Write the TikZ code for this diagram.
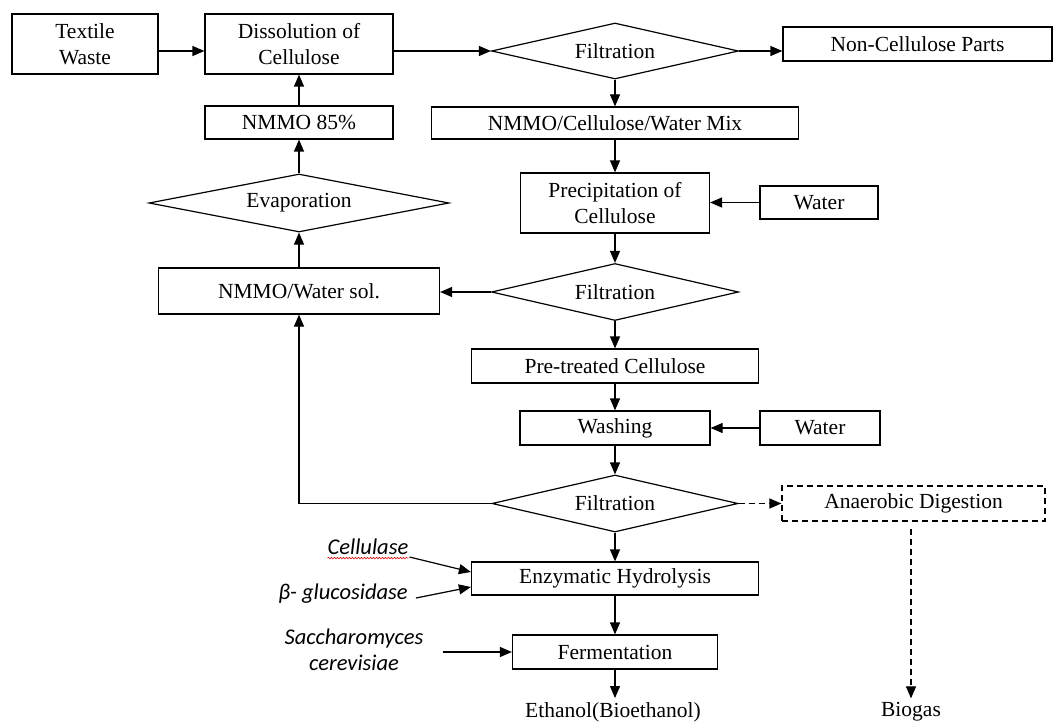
\documentclass[tikz,border=0pt]{standalone}
\usepackage{fontspec}
\setmainfont{Liberation Serif}
\newfontfamily\labelfont{Carlito}
\usetikzlibrary{arrows.meta,shapes.geometric,decorations.pathmorphing}

\begin{document}
\begin{tikzpicture}[x=1pt,y=-1pt,
  every node/.style={font=\fontsize{21.5}{25.5}\selectfont, inner sep=0pt},
  box/.style={draw, line width=1.2pt, align=center},
  dbox/.style={box, dash pattern=on 6pt off 4pt},
  dia/.style={draw, diamond, aspect=5, line width=1.2pt, inner sep=0pt},
  agent/.style={font=\labelfont\itshape\fontsize{22.5}{26}\selectfont, align=center},
  arr/.style={line width=1.2pt, -{Triangle[length=12pt,width=10pt]}},
  darr/.style={arr, dash pattern=on 6pt off 4pt}
]
\useasboundingbox[fill=white] (0,0) rectangle (1056,722);

% left column: feed and solvent recovery
\node[box, minimum width=146pt, minimum height=60pt] (tw) at (85,44) {Textile\\Waste};
\node[box, minimum width=188pt, minimum height=60pt] (diss) at (299,44) {Dissolution of\\Cellulose};
\node[box, minimum width=188pt, minimum height=33pt] (n85) at (299,122.5) {NMMO 85\%};
\node[dia, minimum width=300pt, minimum height=58pt] (evap) at (299,203) {Evaporation};
\node[box, minimum width=281pt, minimum height=46pt] (nws) at (299,291) {NMMO/Water sol.};

% main process column
\node[dia, minimum width=247pt, minimum height=56pt] (f1) at (615,51) {Filtration};
\node[box, minimum width=269pt, minimum height=34pt] (nc) at (917.5,44) {Non-Cellulose Parts};
\node[box, minimum width=367pt, minimum height=32pt] (mix) at (615,123) {NMMO/Cellulose/Water Mix};
\node[box, minimum width=189pt, minimum height=60pt] (prec) at (615,203) {Precipitation of\\Cellulose};
\node[box, minimum width=118pt, minimum height=33pt] (w1) at (819,202.5) {Water};
\node[dia, minimum width=247pt, minimum height=57pt] (f2) at (615,292) {Filtration};
\node[box, minimum width=287pt, minimum height=34pt] (pre) at (615,366) {Pre-treated Cellulose};
\node[box, minimum width=190pt, minimum height=34pt] (wash) at (615,428) {Washing};
\node[box, minimum width=120pt, minimum height=34pt] (w2) at (820,428) {Water};
\node[dia, minimum width=246pt, minimum height=57pt] (f3) at (615,503.5) {Filtration};
\node[dbox, minimum width=263pt, minimum height=35pt] (ad) at (913.5,503.5) {Anaerobic Digestion};
\node[box, minimum width=287pt, minimum height=33pt] (enz) at (615,578.5) {Enzymatic Hydrolysis};
\node[box, minimum width=205pt, minimum height=34pt] (ferm) at (615,652) {Fermentation};
\node[inner sep=4pt] (eth) at (613,712) {Ethanol(Bioethanol)};
\node[inner sep=4pt] (bio) at (911,712) {Biogas};

% enzymes and yeast
\node[agent] (cel) at (368,547) {Cellulase};
\node[agent] (glu) at (343,594) {β- glucosidase};
\node[agent] (sac) at (354,650) {Saccharomyces\\cerevisiae};
\draw[red, line width=0.6pt, decorate, decoration={snake, segment length=3pt, amplitude=0.8pt}]
  ([yshift=-3pt]cel.south west) -- ([yshift=-3pt]cel.south east);

% connectors
\draw[arr] (tw.east |- f1.west) -- (diss.west |- f1.west);
\draw[arr] (diss.east |- f1.west) -- (f1.west);
\draw[arr] (f1.east) -- (nc.west |- f1.east);
\draw[arr] (f1.south) -- (mix.north);
\draw[arr] (mix.south) -- (prec.north);
\draw[arr] (w1.west) -- (prec.east |- w1.west);
\draw[arr] (prec.south) -- (f2.north);
\draw[arr] (f2.west) -- (nws.east |- f2.west);
\draw[arr] (nws.north) -- (evap.south);
\draw[arr] (evap.north) -- (n85.south);
\draw[arr] (n85.north) -- (diss.south);
\draw[arr] (f2.south) -- (pre.north);
\draw[arr] (pre.south) -- (wash.north);
\draw[arr] (w2.west) -- (wash.east);
\draw[arr] (wash.south) -- (f3.north);
\draw[arr] (f3.west) -| (nws.south);
\draw[darr] (f3.east) -- (ad.west);
\draw[darr] ([yshift=-7pt]ad.south -| bio.north) -- (bio.north);
\draw[arr] (f3.south) -- (enz.north);
\draw[arr] (enz.south) -- (ferm.north);
\draw[arr] (ferm.south) -- (ferm.south |- eth.north);
\draw[arr] ([xshift=1pt,yshift=-10pt]cel.east) -- ([yshift=6.5pt]enz.west);
\draw[arr] ([xshift=8pt,yshift=-4pt]glu.east) -- ([yshift=-8.5pt]enz.west);
\draw[arr] ([xshift=19pt,yshift=-2pt]sac.east) -- (ferm.west);
\end{tikzpicture}
\end{document}
